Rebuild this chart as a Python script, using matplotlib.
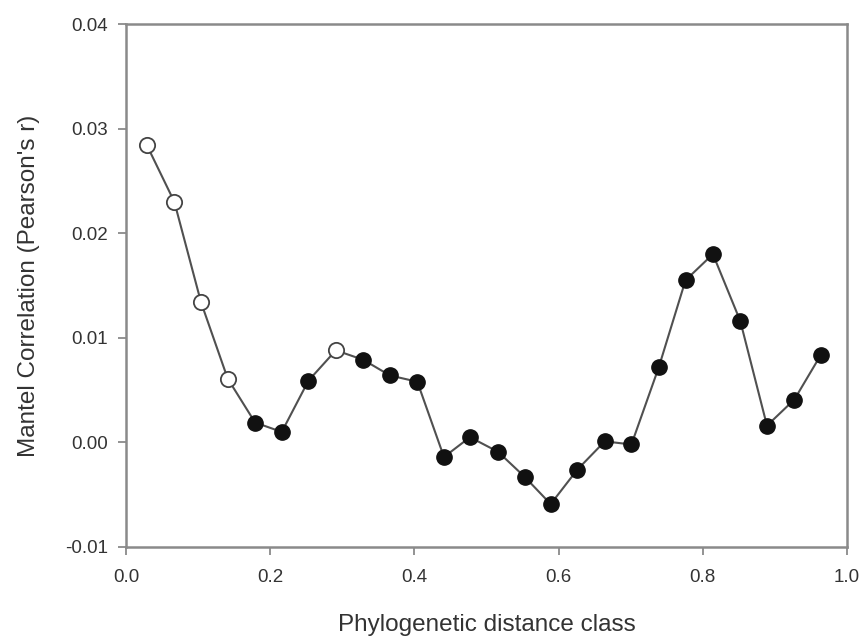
import numpy as np
import matplotlib
matplotlib.use("Agg")
import matplotlib.pyplot as plt

plt.rcParams['font.family'] = ['Liberation Sans', 'DejaVu Sans']

# distance classes and Mantel r
dist_class = [0.029, 0.067, 0.104, 0.141, 0.179, 0.216, 0.253, 0.291, 0.329,
              0.366, 0.404, 0.441, 0.477, 0.516, 0.553, 0.589, 0.626, 0.664,
              0.701, 0.739, 0.776, 0.814, 0.852, 0.889, 0.927, 0.964]
mantel_r = [0.0284, 0.0230, 0.0134, 0.0061, 0.0019, 0.0010, 0.0059, 0.0088,
            0.0079, 0.0064, 0.0058, -0.0014, 0.0005, -0.0009, -0.0033, -0.0059,
            -0.0026, 0.0001, -0.0002, 0.0072, 0.0155, 0.0180, 0.0116, 0.0016,
            0.0041, 0.0084]
# True = open circle
open_pt = [True, True, True, True, False, False, False, True, False,
           False, False, False, False, False, False, False, False, False,
           False, False, False, False, False, False, False, False]

x_ticks = [0.0, 0.2, 0.4, 0.6, 0.8, 1.0]
y_ticks = [-0.01, 0.00, 0.01, 0.02, 0.03, 0.04]

TXT = '#333333'
SPINE = '#8a8a8a'

fig = plt.figure(figsize=(8.65, 6.37), dpi=100)
ax = fig.add_axes([0.1457, 0.1413, 0.8335, 0.821])

x = np.array(dist_class)
y = np.array(mantel_r)
m = np.array(open_pt)

ax.plot(x, y, color='#505050', linewidth=1.5, zorder=1)
ax.plot(x[~m], y[~m], 'o', markersize=11, markerfacecolor='#111111',
        markeredgecolor='#111111', linestyle='none', zorder=2)
ax.plot(x[m], y[m], 'o', markersize=11, markerfacecolor='white',
        markeredgecolor='#444444', markeredgewidth=1.3, linestyle='none', zorder=2)

ax.set_xlim(0, 1.0)
ax.set_ylim(-0.01, 0.04)
ax.set_xticks(x_ticks)
ax.set_xticklabels(['%.1f' % v for v in x_ticks])
ax.set_yticks(y_ticks)
ax.set_yticklabels(['%.2f' % v for v in y_ticks])

for s in ax.spines.values():
    s.set_color(SPINE)
    s.set_linewidth(1.8)
ax.tick_params(direction='out', length=6, width=1.3, color=SPINE,
               labelsize=13.5, labelcolor=TXT)
ax.tick_params(axis='x', pad=10)
ax.tick_params(axis='y', pad=7)

ax.set_xlabel('Phylogenetic distance class', fontsize=17.5, color=TXT, labelpad=20)
ax.set_ylabel("Mantel Correlation (Pearson's r)", fontsize=17.5, color=TXT, labelpad=18)

fig.savefig('out.png', dpi=100)
